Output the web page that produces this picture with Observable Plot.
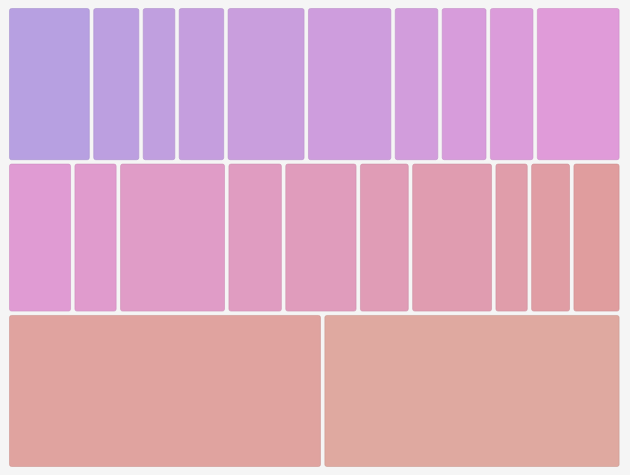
<!DOCTYPE html>
<html>
<head>
<meta charset="utf-8">
<script src="https://cdn.jsdelivr.net/npm/d3@7"></script>
<script src="https://cdn.jsdelivr.net/npm/@observablehq/plot@0.6"></script>
<style>
  html, body { margin: 0; padding: 0; background: #f5f5f5; }
  #chart { width: 630px; height: 475px; }
</style>
</head>
<body>
<div id="chart"></div>
<script>
// Group (row) names and leaf values (area units)
const groups = ["Group A", "Group B", "Group C"];
const groupAValues = [13.1, 7.7, 5.6, 7.6, 12.5, 13.5, 7.3, 7.5, 7.3, 13.4];
const groupBValues = [9.9, 6.9, 16.4, 8.6, 11.3, 7.9, 12.6, 5.4, 6.4, 7.5];
const groupCValues = [49.0, 46.4];
// colour stops (colour, leaf index where it applies)
const colorStops = ["#b7a0e1", "#e09bd9", "#e09d9e", "#dfa9a0"];
const colorStopIndex = [0, 9, 19, 21];

const W = 614, H = 462;
const hierarchyData = {
  name: "root",
  children: [groupAValues, groupBValues, groupCValues].map((vals, gi) => ({
    name: groups[gi],
    children: vals.map((v, i) => ({ name: groups[gi] + " " + (i + 1), value: v }))
  }))
};

const root = d3.hierarchy(hierarchyData).sum(d => d.value || 0);
d3.treemap()
  .tile((node, x0, y0, x1, y1) =>
    node.depth === 0 ? d3.treemapSlice(node, x0, y0, x1, y1) : d3.treemapDice(node, x0, y0, x1, y1))
  .size([W, H])(root);

const colorAt = d3.scaleLinear().domain(colorStopIndex).range(colorStops).interpolate(d3.interpolateRgb);

const leaves = root.leaves();
const cells = leaves.map((d, i) => {
  const fill = d3.color(colorAt(i)).formatHex();
  return {
    name: d.data.name, value: d.value,
    x0: d.x0, x1: d.x1, y0: d.y0, y1: d.y1,
    fill, stroke: d3.color(fill).darker(0.25).formatHex()
  };
});

const chart = Plot.plot({
  width: 630,
  height: 475,
  marginLeft: 7.3,
  marginRight: 8.7,
  marginTop: 6.3,
  marginBottom: 6.3,
  style: { background: "#f5f5f5" },
  x: { domain: [0, W], axis: null },
  y: { domain: [0, H], reverse: true, axis: null },
  marks: [
    Plot.rect(cells, {
      x1: "x0", x2: "x1", y1: "y0", y2: "y1",
      fill: d => d.fill,
      stroke: d => d.stroke,
      strokeWidth: 1,
      strokeOpacity: 0.6,
      inset: 2.2,
      rx: 2,
      title: d => `${d.name}: ${d.value}`
    })
  ]
});
document.getElementById("chart").append(chart);
</script>
</body>
</html>
